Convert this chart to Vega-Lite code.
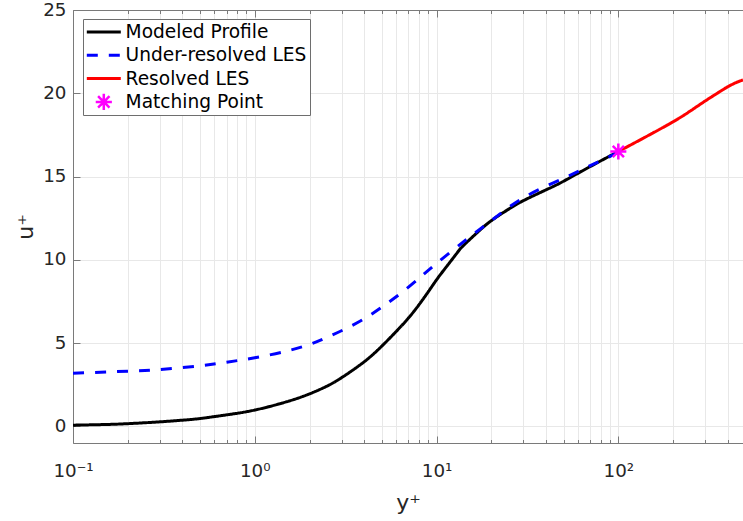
{
  "$schema": "https://vega.github.io/schema/vega-lite/v6.json",
  "width": 670,
  "height": 433,
  "autosize": {"type": "none"},
  "padding": {"left": 73, "top": 10, "right": 0, "bottom": 78},
  "background": "white",
  "config": {"view": {"stroke": null}, "font": "DejaVu Sans"},
  "data": {
    "values": [
      {"series": "Modeled Profile", "yplus": 0.1, "uplus": 0.07},
      {"series": "Modeled Profile", "yplus": 0.15, "uplus": 0.11},
      {"series": "Modeled Profile", "yplus": 0.2, "uplus": 0.16},
      {"series": "Modeled Profile", "yplus": 0.3, "uplus": 0.27},
      {"series": "Modeled Profile", "yplus": 0.4, "uplus": 0.37},
      {"series": "Modeled Profile", "yplus": 0.5, "uplus": 0.47},
      {"series": "Modeled Profile", "yplus": 0.7, "uplus": 0.69},
      {"series": "Modeled Profile", "yplus": 1, "uplus": 0.98},
      {"series": "Modeled Profile", "yplus": 1.5, "uplus": 1.48},
      {"series": "Modeled Profile", "yplus": 2, "uplus": 1.95},
      {"series": "Modeled Profile", "yplus": 2.5, "uplus": 2.42},
      {"series": "Modeled Profile", "yplus": 3, "uplus": 2.92},
      {"series": "Modeled Profile", "yplus": 4, "uplus": 3.88},
      {"series": "Modeled Profile", "yplus": 5, "uplus": 4.82},
      {"series": "Modeled Profile", "yplus": 6, "uplus": 5.7},
      {"series": "Modeled Profile", "yplus": 7, "uplus": 6.5},
      {"series": "Modeled Profile", "yplus": 8, "uplus": 7.3},
      {"series": "Modeled Profile", "yplus": 9, "uplus": 8.08},
      {"series": "Modeled Profile", "yplus": 10, "uplus": 8.8},
      {"series": "Modeled Profile", "yplus": 11, "uplus": 9.4},
      {"series": "Modeled Profile", "yplus": 12.9, "uplus": 10.38},
      {"series": "Modeled Profile", "yplus": 14, "uplus": 10.84},
      {"series": "Modeled Profile", "yplus": 16.6, "uplus": 11.6},
      {"series": "Modeled Profile", "yplus": 20, "uplus": 12.35},
      {"series": "Modeled Profile", "yplus": 25, "uplus": 13.05},
      {"series": "Modeled Profile", "yplus": 30, "uplus": 13.55},
      {"series": "Modeled Profile", "yplus": 40, "uplus": 14.2},
      {"series": "Modeled Profile", "yplus": 50, "uplus": 14.72},
      {"series": "Modeled Profile", "yplus": 70, "uplus": 15.6},
      {"series": "Modeled Profile", "yplus": 100, "uplus": 16.5},
      {"series": "Under-resolved LES", "yplus": 0.1, "uplus": 3.19},
      {"series": "Under-resolved LES", "yplus": 0.2, "uplus": 3.31},
      {"series": "Under-resolved LES", "yplus": 0.3, "uplus": 3.41},
      {"series": "Under-resolved LES", "yplus": 0.5, "uplus": 3.64},
      {"series": "Under-resolved LES", "yplus": 0.7, "uplus": 3.85},
      {"series": "Under-resolved LES", "yplus": 1, "uplus": 4.12},
      {"series": "Under-resolved LES", "yplus": 1.5, "uplus": 4.52},
      {"series": "Under-resolved LES", "yplus": 2, "uplus": 4.92},
      {"series": "Under-resolved LES", "yplus": 2.4, "uplus": 5.26},
      {"series": "Under-resolved LES", "yplus": 3.09, "uplus": 5.81},
      {"series": "Under-resolved LES", "yplus": 4.07, "uplus": 6.51},
      {"series": "Under-resolved LES", "yplus": 5.13, "uplus": 7.25},
      {"series": "Under-resolved LES", "yplus": 6.41, "uplus": 8.02},
      {"series": "Under-resolved LES", "yplus": 8.09, "uplus": 8.93},
      {"series": "Under-resolved LES", "yplus": 10, "uplus": 9.78},
      {"series": "Under-resolved LES", "yplus": 14.6, "uplus": 11.22},
      {"series": "Under-resolved LES", "yplus": 20, "uplus": 12.35},
      {"series": "Under-resolved LES", "yplus": 30, "uplus": 13.72},
      {"series": "Under-resolved LES", "yplus": 50, "uplus": 14.9},
      {"series": "Under-resolved LES", "yplus": 70, "uplus": 15.65},
      {"series": "Under-resolved LES", "yplus": 100, "uplus": 16.45},
      {"series": "Resolved LES", "yplus": 100, "uplus": 16.5},
      {"series": "Resolved LES", "yplus": 137, "uplus": 17.3},
      {"series": "Resolved LES", "yplus": 198, "uplus": 18.26},
      {"series": "Resolved LES", "yplus": 250, "uplus": 18.95},
      {"series": "Resolved LES", "yplus": 297, "uplus": 19.5},
      {"series": "Resolved LES", "yplus": 350, "uplus": 20.0},
      {"series": "Resolved LES", "yplus": 394, "uplus": 20.35},
      {"series": "Resolved LES", "yplus": 440, "uplus": 20.62},
      {"series": "Resolved LES", "yplus": 485, "uplus": 20.8},
      {"series": "Matching Point", "yplus": 100, "uplus": 16.5}
    ]
  },
  "layer": [
    {
      "transform": [{"filter": "datum.series != 'Matching Point'"}],
      "mark": {"type": "line", "strokeWidth": 3, "interpolate": "natural"},
      "encoding": {
        "x": {
          "field": "yplus",
          "type": "quantitative",
          "scale": {"type": "log", "domain": [0.1, 485], "nice": false},
          "axis": {
            "orient": "bottom",
            "values": [0.1, 0.2, 0.3, 0.4, 0.5, 0.6, 0.7, 0.8, 0.9, 1, 2, 3, 4, 5, 6, 7, 8, 9, 10, 20, 30, 40, 50, 60, 70, 80, 90, 100, 200, 300, 400],
            "labelExpr": "datum.value == 0.1 ? '10⁻¹' : datum.value == 1 ? '10⁰' : datum.value == 10 ? '10¹' : datum.value == 100 ? '10²' : ''",
            "grid": true,
            "gridColor": "#e8e8e8",
            "gridWidth": 1,
            "tickSize": {"condition": {"test": "indexof([0.1, 1, 10, 100], datum.value) >= 0", "value": -7}, "value": -3.5},
            "tickColor": "#7a7a7a",
            "domainColor": "#7a7a7a",
            "labelFont": "DejaVu Sans",
            "labelFontSize": 18.3,
            "labelColor": "#262626",
            "labelPadding": 26,
            "labelOverlap": false,
            "labelBound": false,
            "labelFlush": false,
            "title": "y⁺",
            "titleFont": "DejaVu Sans",
            "titleFontSize": 22,
            "titleFontWeight": "normal",
            "titleColor": "#262626",
            "titlePadding": 10
          }
        },
        "y": {
          "field": "uplus",
          "type": "quantitative",
          "scale": {"domain": [-1, 25], "nice": false},
          "axis": {
            "values": [0, 5, 10, 15, 20, 25],
            "grid": true,
            "gridColor": "#e8e8e8",
            "tickSize": -7,
            "tickColor": "#7a7a7a",
            "domainColor": "#7a7a7a",
            "labelFont": "DejaVu Sans",
            "labelFontSize": 18.3,
            "labelColor": "#262626",
            "labelPadding": 14,
            "title": "u⁺",
            "titleFont": "DejaVu Sans",
            "titleFontSize": 22,
            "titleFontWeight": "normal",
            "titleColor": "#262626",
            "titlePadding": 5
          }
        },
        "color": {
          "field": "series",
          "type": "nominal",
          "scale": {
            "domain": ["Modeled Profile", "Under-resolved LES", "Resolved LES", "Matching Point"],
            "range": ["#000000", "#0000ff", "#ff0000", "#ff00ff"]
          },
          "legend": {
            "title": null,
            "orient": "none",
            "legendX": 10,
            "legendY": 9,
            "fillColor": "white",
            "strokeColor": "#6e6e6e",
            "padding": 3,
            "cornerRadius": 0,
            "labelFont": "DejaVu Sans",
            "labelFontSize": 18.6,
            "labelColor": "#000000",
            "labelLimit": 300,
            "symbolSize": 289,
            "symbolOffset": 8.5,
            "labelOffset": 12.5,
            "clipHeight": 20,
            "rowPadding": 3.3,
            "symbolStrokeWidth": 3,
            "encode": {
              "symbols": {
                "update": {
                  "shape": {"signal": "datum.value === 'Matching Point' ? 'M0,-0.95L0,0.95M-0.95,0L0.95,0M-0.67,-0.67L0.67,0.67M-0.67,0.67L0.67,-0.67' : 'M-2,0L2,0'"},
                  "strokeDash": {"signal": "datum.value === 'Under-resolved LES' ? [11, 11] : [1, 0]"},
                  "fill": {"value": "transparent"},
                  "stroke": {"scale": "color", "field": "value"},
                  "strokeWidth": {"signal": "datum.value === 'Matching Point' ? 2.5 : 3"},
                  "opacity": {"value": 1}
                }
              }
            }
          }
        },
        "strokeDash": {
          "field": "series",
          "type": "nominal",
          "scale": {
            "domain": ["Modeled Profile", "Under-resolved LES", "Resolved LES", "Matching Point"],
            "range": [[1, 0], [11, 11], [1, 0], [1, 0]]
          },
          "legend": null
        }
      }
    },
    {
      "transform": [{"filter": "datum.series == 'Matching Point'"}],
      "mark": {
        "type": "point",
        "shape": "M0,-1L0,1M-1,0L1,0M-0.7,-0.7L0.7,0.7M-0.7,0.7L0.7,-0.7",
        "size": 256,
        "strokeWidth": 2.5,
        "filled": false,
        "opacity": 1
      },
      "encoding": {
        "x": {
          "field": "yplus",
          "type": "quantitative",
          "axis": {
            "orient": "top",
            "values": [0.1, 0.2, 0.3, 0.4, 0.5, 0.6, 0.7, 0.8, 0.9, 1, 2, 3, 4, 5, 6, 7, 8, 9, 10, 20, 30, 40, 50, 60, 70, 80, 90, 100, 200, 300, 400],
            "labels": false,
            "grid": false,
            "tickSize": {"condition": {"test": "indexof([0.1, 1, 10, 100], datum.value) >= 0", "value": -7}, "value": -3.5},
            "tickColor": "#7a7a7a",
            "domainColor": "#7a7a7a",
            "title": null
          }
        },
        "y": {
          "field": "uplus",
          "type": "quantitative",
          "axis": {
            "values": [0, 5, 10, 15, 20, 25],
            "grid": true,
            "gridColor": "#e8e8e8",
            "tickSize": -7,
            "tickColor": "#7a7a7a",
            "domainColor": "#7a7a7a",
            "labelFont": "DejaVu Sans",
            "labelFontSize": 18.3,
            "labelColor": "#262626",
            "labelPadding": 14,
            "title": "u⁺",
            "titleFont": "DejaVu Sans",
            "titleFontSize": 22,
            "titleFontWeight": "normal",
            "titleColor": "#262626",
            "titlePadding": 5
          }
        },
        "color": {"field": "series", "type": "nominal"}
      }
    }
  ]
}
